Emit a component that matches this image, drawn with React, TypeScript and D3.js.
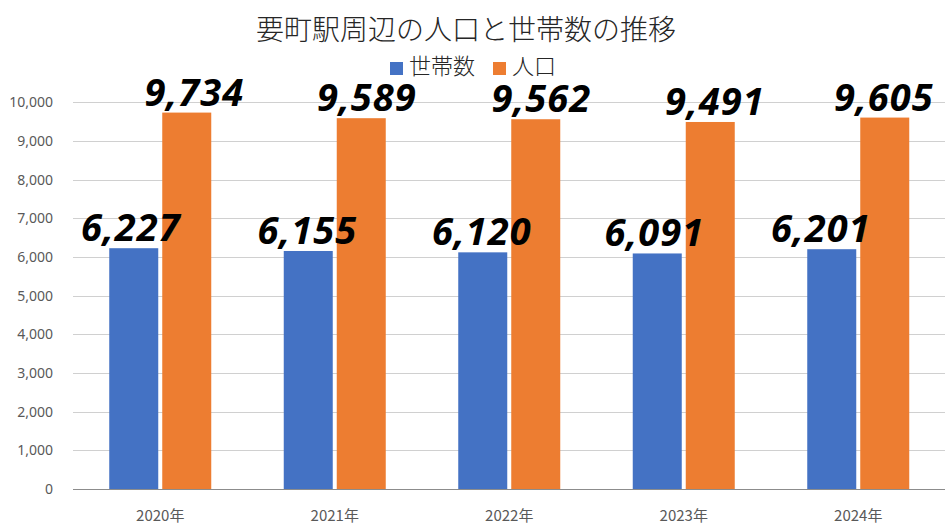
import React from "react";
import * as d3 from "d3";

const categories = ["2020年", "2021年", "2022年", "2023年", "2024年"];
const series = ["世帯数", "人口"];
const households = [6227, 6155, 6120, 6091, 6201];
const population = [9734, 9589, 9562, 9491, 9605];
const yTicks = [0, 1000, 2000, 3000, 4000, 5000, 6000, 7000, 8000, 9000, 10000];
const colors = ["#4472C4", "#ED7D31"];
const title = "要町駅周辺の人口と世帯数の推移";

// small horizontal nudges of the value labels (layout only)
const labelNudge = [
  [-3, -1, -1, -3, -11],
  [7.5, 5.5, 5.5, 4.5, -1],
];

const W = 945;
const H = 532;
const left = 73;
const right = 945.5;
const top = 102.3;
const bottom = 489;

export default function App() {
  const x0 = d3.scaleBand<string>().domain(categories).range([left, right]).padding(0);
  const x1 = d3
    .scaleBand<string>()
    .domain(series)
    .range([0, x0.bandwidth()])
    .paddingInner(0.0755)
    .paddingOuter(0.684);
  const y = d3.scaleLinear().domain([0, 10000]).range([bottom, top]);
  const fmt = d3.format(",");
  const values = [households, population];

  return (
    <svg
      width={W}
      height={H}
      style={{ position: "absolute", left: 0, top: 0, background: "#fff" }}
    >
      <rect x={0} y={0} width={W} height={H} fill="#fff" />
      <text
        x={466}
        y={40}
        textAnchor="middle"
        fontFamily="'Noto Sans CJK JP', sans-serif"
        fontSize={28}
        fontWeight={300}
        fill="#262626"
      >
        {title}
      </text>
      {/* legend */}
      <g fontFamily="'Noto Sans CJK JP', sans-serif" fontSize={22} fontWeight={300} fill="#262626">
        <rect x={390} y={62} width={13} height={13} fill={colors[0]} />
        <text x={409} y={74}>{series[0]}</text>
        <rect x={493} y={62} width={13} height={13} fill={colors[1]} />
        <text x={512} y={74}>{series[1]}</text>
      </g>
      {/* gridlines */}
      {yTicks.map((t) => (
        <line
          key={t}
          x1={left}
          x2={W}
          y1={Math.round(y(t)) + 0.5}
          y2={Math.round(y(t)) + 0.5}
          stroke={t === 0 ? "#8c8c8c" : "#d0d0d0"}
          strokeWidth={1}
        />
      ))}
      {/* y labels */}
      {yTicks.map((t) => (
        <text
          key={"l" + t}
          x={53}
          y={y(t)}
          dy="0.35em"
          textAnchor="end"
          fontFamily="'Noto Sans', sans-serif"
          fontSize={14}
          fill="#595959"
        >
          {fmt(t)}
        </text>
      ))}
      {/* bars */}
      {categories.map((c, i) => (
        <g key={c} transform={`translate(${x0(c)},0)`}>
          {series.map((s, j) => {
            const v = values[j][i];
            return (
              <rect
                key={s}
                x={x1(s)}
                y={y(v)}
                width={x1.bandwidth()}
                height={y(0) - y(v)}
                fill={colors[j]}
              />
            );
          })}
        </g>
      ))}
      {/* bar value labels */}
      {categories.map((c, i) =>
        series.map((s, j) => {
          const v = values[j][i];
          const cx =
            (x0(c) as number) + (x1(s) as number) + x1.bandwidth() / 2 + labelNudge[j][i];
          return (
            <text
              key={c + s}
              x={cx}
              y={y(v) - 7}
              textAnchor="middle"
              fontFamily="'Noto Sans', sans-serif"
              fontWeight="bold"
              fontStyle="italic"
              fontSize={38}
              letterSpacing={1}
              fill="#000"
            >
              {fmt(v)}
            </text>
          );
        })
      )}
      {/* x labels */}
      {categories.map((c) => (
        <text
          key={"x" + c}
          x={(x0(c) as number) + x0.bandwidth() / 2}
          y={521}
          textAnchor="middle"
          fontFamily="'Noto Sans CJK JP', sans-serif"
          fontSize={15}
          fill="#595959"
        >
          {c}
        </text>
      ))}
    </svg>
  );
}
